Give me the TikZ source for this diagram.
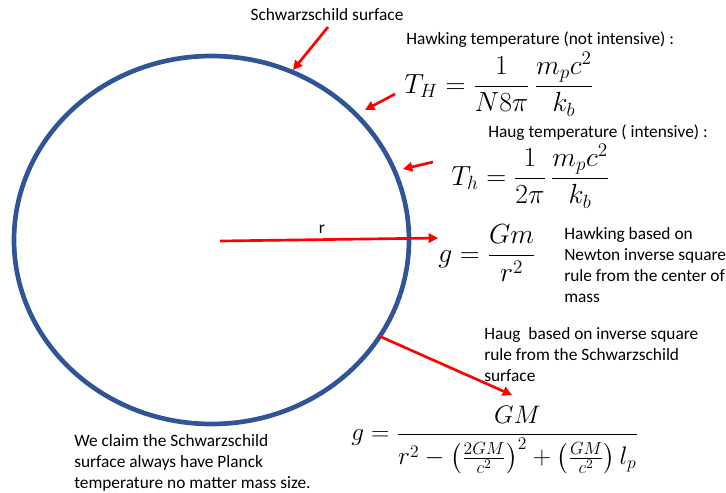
\documentclass[tikz,border=0pt]{standalone}
\usepackage{amsmath}
\usepackage[no-math]{fontspec}
\setmainfont{Carlito}
\usetikzlibrary{arrows.meta}
\definecolor{navy}{RGB}{47,85,151}
\definecolor{red}{RGB}{255,0,0}

\begin{document}
\begin{tikzpicture}[x=0.75pt,y=0.75pt,yscale=-1,xscale=1,
  ptr/.style={draw=red,line width=2pt,-{Triangle[length=7pt,width=7pt]}},
  lbl/.style={inner sep=0.75pt,align=left,font=\fontsize{13}{15.75}\selectfont},
  eqn/.style={inner sep=0.75pt,font=\fontsize{22.5}{26}\selectfont}]
\useasboundingbox (0,0) rectangle (726,493);

%Shape: Ellipse
\coordinate (ctr) at (211.5,240);
\draw [color=navy,line width=3.5pt] (ctr) ellipse [x radius=197.5,y radius=184];

% Text Node
\draw (327,15) node (surf) [lbl] {Schwarzschild surface};
% Text Node
\draw (405,40) node (hawkT) [lbl,anchor=west] {Hawking temperature (not intensive) :};
% Text Node
\draw (403,84) node (eqTH) [eqn,anchor=west] {$\displaystyle T_H=\frac{1}{N8\pi}\,\frac{m_pc^2}{k_b}$};
% Text Node
\draw (487,133) node (haugT) [lbl,anchor=west] {Haug temperature ( intensive) :};
% Text Node
\draw (450,176) node (eqTh) [eqn,anchor=west] {$\displaystyle T_h=\frac{1}{2\pi}\,\frac{m_pc^2}{k_b}$};
% Text Node
\draw (437,253) node (eqNewton) [eqn,anchor=west] {$\displaystyle g=\frac{Gm}{r^2}$};
% Text Node
\draw (563,265) node (hawkNote) [lbl,anchor=west] {Hawking based on\\Newton inverse square\\rule from the center of\\mass};
% Text Node
\draw (483,355) node (haugNote) [lbl,anchor=west] {Haug\ \ based on inverse square\\rule from the Schwarzschild\\surface};
% Text Node
\draw (350,440) node (eqHaug) [eqn,anchor=west,font=\fontsize{18.5}{23}\selectfont] {\scalebox{1.1}{$\displaystyle g=\frac{GM}{r^2-\left(\frac{2GM}{c^2}\right)^2+\left(\frac{GM}{c^2}\right)l_p}$}};
% Text Node
\draw (73,463) node (claim) [lbl,anchor=west] {We claim the Schwarzschild\\surface always have Planck\\temperature no matter mass size.};
% Text Node
\draw (322,229) node (rlbl) [lbl] {r};

%Straight Lines
\coordinate (surfTail) at (328,27);
\coordinate (surfTip) at (293,70);
\draw [ptr] (surfTail) -- (surfTip);
\coordinate (hawkTail) at (395,94);
\coordinate (hawkTip) at (365,110);
\draw [ptr] (hawkTail) -- (hawkTip);
\coordinate (haugTail) at (433,162);
\coordinate (haugTip) at (403,169);
\draw [ptr] (haugTail) -- (haugTip);
\coordinate (rTip) at (438,238);
\draw [ptr] (220,241) -- (rTip);
\coordinate (rimPt) at (379,336);
\coordinate (eqTip) at (512,395);
\draw [ptr] (rimPt) -- (eqTip);

\end{tikzpicture}
\end{document}
